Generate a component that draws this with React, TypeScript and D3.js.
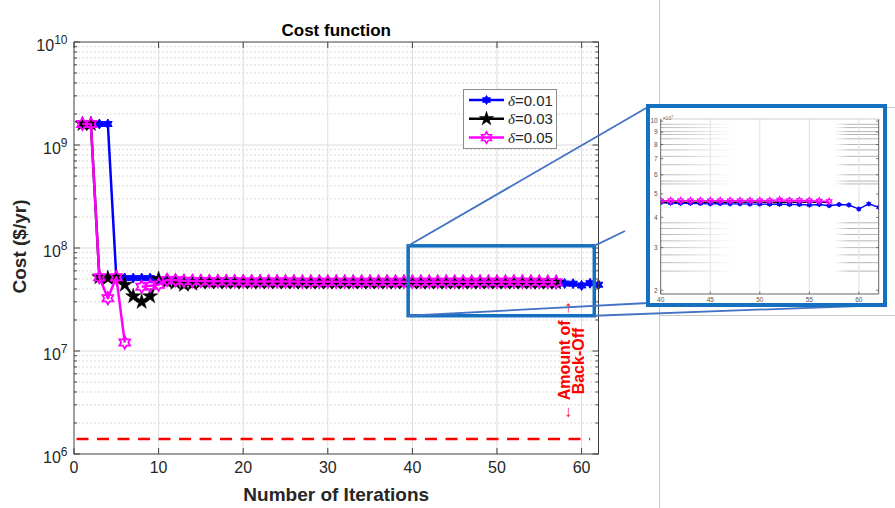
import React from "react";
import * as d3 from "d3";

// ---------- data ----------
const blueCost: (number | null)[] = [
  1.6e9, 1.6e9, 1.6e9, 1.6e9, 5.2e7, 5.1e7, 5.1e7, 5.1e7, 5.1e7, 5.0e7, 4.8e7, 4.75e7, 4.65e7,
  4.65e7, 4.65e7, 4.64e7, 4.64e7, 4.64e7, 4.63e7, 4.63e7, 4.63e7, 4.63e7, 4.62e7, 4.62e7, 4.62e7, 4.62e7,
  4.62e7, 4.61e7, 4.61e7, 4.61e7, 4.61e7, 4.61e7, 4.6e7, 4.6e7, 4.6e7, 4.6e7, 4.6e7, 4.6e7, 4.6e7,
  4.6e7, 4.58e7, 4.57e7, 4.57e7, 4.56e7, 4.55e7, 4.56e7, 4.55e7, 4.55e7, 4.54e7, 4.54e7, 4.53e7,
  4.53e7, 4.52e7, 4.52e7, 4.5e7, 4.52e7, 4.47e7, 4.52e7, 4.5e7, 4.33e7, 4.55e7, 4.4e7,
];
const blackCost: (number | null)[] = [
  1.6e9, 1.6e9, 5.2e7, 5.1e7, 5.2e7, 4.4e7, 3.4e7, 3.0e7, 3.4e7, 5.0e7, 4.7e7, 4.6e7, 4.4e7, 4.5e7,
  4.64e7, 4.64e7, 4.64e7, 4.64e7, 4.64e7, 4.64e7, 4.64e7, 4.64e7, 4.64e7, 4.64e7,
  4.63e7, 4.63e7, 4.63e7, 4.63e7, 4.63e7, 4.63e7, 4.63e7, 4.63e7, 4.63e7, 4.63e7, 4.63e7, 4.63e7, 4.63e7, 4.63e7, 4.63e7,
  4.62e7, 4.62e7, 4.62e7, 4.62e7, 4.62e7, 4.62e7, 4.62e7, 4.62e7, 4.62e7, 4.62e7, 4.62e7, 4.62e7, 4.62e7, 4.62e7,
  4.62e7, 4.62e7, 4.62e7, 4.62e7,
];
const magentaCost: (number | null)[] = [
  1.6e9, 1.6e9, 5.2e7, 3.25e7, 5.2e7, 1.21e7, null, 4.2e7, 4.3e7, 4.4e7, 4.9e7, 4.85e7, 4.8e7,
  4.78e7, 4.77e7, 4.76e7, 4.76e7, 4.75e7, 4.75e7, 4.74e7, 4.74e7, 4.73e7, 4.73e7,
  4.72e7, 4.72e7, 4.72e7, 4.71e7, 4.71e7, 4.71e7, 4.7e7, 4.7e7, 4.7e7, 4.7e7, 4.7e7, 4.7e7, 4.7e7, 4.7e7, 4.7e7, 4.7e7,
  4.69e7, 4.69e7, 4.69e7, 4.69e7, 4.69e7, 4.69e7, 4.69e7, 4.69e7, 4.69e7, 4.69e7, 4.69e7, 4.69e7,
  4.73e7, 4.7e7, 4.7e7, 4.69e7, 4.68e7, 4.66e7,
];
const deltaLabels = ["0.01", "0.03", "0.05"];
const xTickValues = [0, 10, 20, 30, 40, 50, 60];
const yDecadeExponents = [6, 7, 8, 9, 10];
const backOffCost = 1.4e6;
const backOffIterRange = [0.3, 61];
const zoomIterRange = [39.5, 61.5];
const zoomCostRange = [2.2e7, 1.05e8];
const insetXTicks = [40, 45, 50, 55, 60];
const insetYTicks = [2, 3, 4, 5, 6, 7, 8, 9, 10];
const insetFadedLevels = [2.4, 2.6, 2.8, 3.0, 3.2, 3.4, 3.6, 3.8, 5.5, 5.65, 6.0, 6.6, 7.15, 7.6, 8.0, 8.45, 8.8, 9.05, 9.4, 9.7];

// ---------- helpers ----------
const FONT = "'Liberation Sans', Arial, Helvetica, sans-serif";
const TXT = "#262626";

const hexPath = (R: number) => {
  const pts = d3.range(12).map((i) => {
    const a = ((i * 30 - 90) * Math.PI) / 180;
    const rr = i % 2 === 0 ? R : R / Math.sqrt(3);
    return [rr * Math.cos(a), rr * Math.sin(a)];
  });
  return "M" + pts.map((p) => p[0].toFixed(2) + "," + p[1].toFixed(2)).join("L") + "Z";
};
const starPath = (R: number) =>
  d3.symbol(d3.symbolStar, (R * R) / 0.8908130915292852)() as string;

type Kind = "hexFill" | "star" | "hexOutline";
const markerProps = (kind: Kind, R: number, color: string, sw: number) => {
  if (kind === "star") return { d: starPath(R), fill: color, stroke: color, strokeWidth: 0.5 };
  if (kind === "hexFill") return { d: hexPath(R), fill: color, stroke: color, strokeWidth: 1 };
  return { d: hexPath(R), fill: "none", stroke: color, strokeWidth: sw };
};

const toPts = (arr: (number | null)[]) => arr.map((v, i) => [i + 1, v] as [number, number | null]);

export default function App() {
  const x = d3.scaleLinear().domain([0, 62]).range([74, 598.5]);
  const y = d3.scaleLog().domain([1e6, 1e10]).range([454, 42]);
  const L = x(0), R = x(62), T = y(1e10), B = y(1e6);

  const xI = d3.scaleLinear().domain([40, 62]).range([660.7, 878.7]);
  const yI = d3.scaleLog().domain([1.93e7, 1.02e8]).range([294, 119]);
  const iL = xI(40), iR = xI(62), iT = yI(1.02e8), iB = yI(1.93e7);

  const series = [
    { data: toPts(blueCost), color: "#0000ff", kind: "hexFill" as Kind, R: 5, insetR: 2.4 },
    { data: toPts(blackCost), color: "#000000", kind: "star" as Kind, R: 8, insetR: 2.6 },
    { data: toPts(magentaCost), color: "#ff00ff", kind: "hexOutline" as Kind, R: 6.2, insetR: 3 },
  ];

  const line = d3
    .line<[number, number | null]>()
    .defined((d) => d[1] != null)
    .x((d) => x(d[0]))
    .y((d) => y(d[1] as number));
  const lineI = d3
    .line<[number, number | null]>()
    .defined((d) => d[1] != null)
    .x((d) => xI(d[0]))
    .y((d) => yI((d[1] as number)));

  const minorVals: number[] = [];
  yDecadeExponents.slice(0, -1).forEach((e) => {
    for (let m = 2; m <= 9; m++) minorVals.push(m * Math.pow(10, e));
  });
  const majorVals = yDecadeExponents.map((e) => Math.pow(10, e));

  const legendRows = deltaLabels.map((lab, i) => ({ lab, s: series[i], yy: 100 + i * 18.8 }));

  const zx0 = x(zoomIterRange[0]), zx1 = x(zoomIterRange[1]);
  const zy0 = y(zoomCostRange[1]), zy1 = y(zoomCostRange[0]);
  const inset = { x0: 648, y0: 106, x1: 885, y1: 305 };
  const connector = "#4472c4";

  return (
    <div style={{ position: "fixed", left: 0, top: 0 }}>
      <svg width={895} height={508} viewBox="0 0 895 508" style={{ display: "block", fontFamily: FONT }}>
        <rect x={0} y={0} width={895} height={508} fill="#ffffff" />
        <defs>
          <clipPath id="insetClip">
            <rect x={iL} y={iT} width={iR - iL} height={iB - iT} />
          </clipPath>
          <linearGradient id="fadeL" gradientUnits="userSpaceOnUse" x1={xI(40)} x2={xI(47.5)} y1={0} y2={0}>
            <stop offset="0" stopColor="#b5b5b5" stopOpacity={1} />
            <stop offset="1" stopColor="#b5b5b5" stopOpacity={0} />
          </linearGradient>
          <linearGradient id="fadeR" gradientUnits="userSpaceOnUse" x1={xI(57.5)} x2={xI(59)} y1={0} y2={0}>
            <stop offset="0" stopColor="#b5b5b5" stopOpacity={0} />
            <stop offset="1" stopColor="#b5b5b5" stopOpacity={1} />
          </linearGradient>
        </defs>

        {/* grid */}
        {minorVals.map((v) => (
          <line key={"mg" + v} x1={L} x2={R} y1={y(v)} y2={y(v)} stroke="#dadada" strokeWidth={1} strokeDasharray="2,2" />
        ))}
        {majorVals.slice(1, -1).map((v) => (
          <line key={"Mg" + v} x1={L} x2={R} y1={y(v)} y2={y(v)} stroke="#dcdcdc" strokeWidth={1} />
        ))}
        {xTickValues.slice(1).map((t) => (
          <line key={"xg" + t} x1={x(t)} x2={x(t)} y1={T} y2={B} stroke="#dcdcdc" strokeWidth={1} />
        ))}

        {/* back-off level */}
        <line
          x1={x(backOffIterRange[0])}
          x2={x(backOffIterRange[1])}
          y1={y(backOffCost)}
          y2={y(backOffCost)}
          stroke="#ff0000"
          strokeWidth={2.6}
          strokeDasharray="12,8.5"
        />

        {/* series */}
        {series.map((s, si) => (
          <g key={"s" + si}>
            <path d={line(s.data) || ""} fill="none" stroke={s.color} strokeWidth={2.5} strokeLinejoin="round" />
            {s.data
              .filter((d) => d[1] != null)
              .map((d, i) => {
                const p = markerProps(s.kind, s.R, s.color, 1.8);
                return (
                  <path
                    key={i}
                    transform={`translate(${x(d[0])},${y(d[1] as number)})`}
                    d={p.d}
                    fill={p.fill}
                    stroke={p.stroke}
                    strokeWidth={p.strokeWidth}
                  />
                );
              })}
          </g>
        ))}

        {/* axes box and ticks */}
        <rect x={L} y={T} width={R - L} height={B - T} fill="none" stroke="#404040" strokeWidth={1} />
        {majorVals.map((v) => (
          <g key={"yt" + v}>
            <line x1={L} x2={L + 6} y1={y(v)} y2={y(v)} stroke="#404040" />
            <line x1={R} x2={R - 6} y1={y(v)} y2={y(v)} stroke="#404040" />
          </g>
        ))}
        {minorVals.map((v) => (
          <g key={"ymt" + v}>
            <line x1={L} x2={L + 3} y1={y(v)} y2={y(v)} stroke="#404040" />
            <line x1={R} x2={R - 3} y1={y(v)} y2={y(v)} stroke="#404040" />
          </g>
        ))}
        {xTickValues.map((t) => (
          <g key={"xt" + t}>
            <line x1={x(t)} x2={x(t)} y1={B} y2={B - 6} stroke="#404040" />
            <line x1={x(t)} x2={x(t)} y1={T} y2={T + 6} stroke="#404040" />
          </g>
        ))}

        {/* tick labels */}
        {xTickValues.map((t) => (
          <text key={"xl" + t} x={x(t)} y={473} textAnchor="middle" fontSize={16} fill={TXT}>
            {t}
          </text>
        ))}
        {yDecadeExponents.map((e) => (
          <text key={"yl" + e} x={67.5} y={y(Math.pow(10, e)) + 9} textAnchor="end" fontSize={16} fill={TXT}>
            <tspan>10</tspan>
            <tspan fontSize={12} dy={-7.5}>
              {e}
            </tspan>
          </text>
        ))}

        {/* titles */}
        <text x={(L + R) / 2} y={36} textAnchor="middle" fontSize={17} fontWeight="bold" fill="#000">
          Cost function
        </text>
        <text x={(L + R) / 2} y={501} textAnchor="middle" fontSize={19} fontWeight="bold" fill={TXT}>
          Number of Iterations
        </text>
        <text
          transform={`translate(19,${(T + B) / 2 - 1.5}) rotate(-90)`}
          textAnchor="middle"
          dominantBaseline="central"
          fontSize={19}
          fontWeight="bold"
          fill={TXT}
        >
          Cost ($/yr)
        </text>

        {/* legend */}
        <rect x={463.5} y={89.5} width={93} height={59} fill="#ffffff" stroke="#8c8c8c" strokeWidth={1} />
        {legendRows.map((r, i) => {
          const p = markerProps(r.s.kind, r.s.kind === "star" ? 7.5 : r.s.R - 0.5, r.s.color, 1.6);
          return (
            <g key={"lg" + i}>
              <line x1={469} x2={504} y1={r.yy} y2={r.yy} stroke={r.s.color} strokeWidth={2.5} />
              <path transform={`translate(486.5,${r.yy})`} d={p.d} fill={p.fill} stroke={p.stroke} strokeWidth={p.strokeWidth} />
              <text x={508} y={r.yy + 5.5} fontSize={15} fill={TXT}>
                <tspan fontStyle="italic" fontFamily="'Liberation Serif', 'DejaVu Serif', serif">δ</tspan>
                <tspan>={r.lab}</tspan>
              </text>
            </g>
          );
        })}

        {/* back-off annotation */}
        <text
          transform="translate(564.5,360) rotate(-90)"
          textAnchor="middle"
          dominantBaseline="central"
          fontSize={16}
          fontWeight="bold"
          fill="#ff0000"
        >
          <tspan fontWeight="normal">←</tspan> Amount of <tspan fontWeight="normal">→</tspan>
        </text>
        <text
          transform="translate(578.5,361) rotate(-90)"
          textAnchor="middle"
          dominantBaseline="central"
          fontSize={16}
          fontWeight="bold"
          fill="#ff0000"
        >
          Back-Off
        </text>

        {/* zoom rectangle */}
        <rect x={zx0} y={zy0} width={zx1 - zx0} height={zy1 - zy0} fill="none" stroke="#1570c0" strokeWidth={3.5} />

        {/* background screenshot frame lines */}
        <line x1={659.5} x2={659.5} y1={0} y2={508} stroke="#c8c8c8" strokeWidth={1} />
        <line x1={659} x2={895} y1={107.5} y2={107.5} stroke="#c8c8c8" strokeWidth={1} />
        <line x1={659} x2={895} y1={315.5} y2={315.5} stroke="#c8c8c8" strokeWidth={1} />

        {/* connectors */}
        <line x1={zx0} y1={zy0} x2={inset.x0} y2={inset.y0 + 1} stroke={connector} strokeWidth={1.8} />
        <line x1={zx1} y1={zy0} x2={625} y2={231} stroke={connector} strokeWidth={1.8} />
        <line x1={zx0} y1={zy1} x2={inset.x0} y2={inset.y1 - 2} stroke={connector} strokeWidth={1.8} />
        <line x1={zx1} y1={zy1} x2={inset.x1} y2={inset.y1} stroke={connector} strokeWidth={1.8} />

        {/* inset */}
        <rect
          x={inset.x0}
          y={inset.y0}
          width={inset.x1 - inset.x0}
          height={inset.y1 - inset.y0}
          fill="#ffffff"
          stroke="#1570c0"
          strokeWidth={4}
        />
        {insetFadedLevels.map((v) => (
          <g key={"fl" + v}>
            <line x1={iL} x2={xI(47.5)} y1={yI(v * 1e7)} y2={yI(v * 1e7)} stroke="url(#fadeL)" strokeWidth={1} />
            <line x1={xI(57.5)} x2={iR} y1={yI(v * 1e7)} y2={yI(v * 1e7)} stroke="url(#fadeR)" strokeWidth={1} />
          </g>
        ))}
        {insetXTicks.slice(1).map((t) => (
          <line key={"ig" + t} x1={xI(t)} x2={xI(t)} y1={iT} y2={iB} stroke="#e0e0e0" strokeWidth={1} />
        ))}
        <g clipPath="url(#insetClip)">
          {series.map((s, si) => (
            <g key={"is" + si}>
              <path d={lineI(s.data.filter((d) => d[0] >= 39)) || ""} fill="none" stroke={s.color} strokeWidth={1.4} />
              {s.data
                .filter((d) => d[1] != null && d[0] >= 40)
                .map((d, i) => {
                  const p =
                    s.kind === "star"
                      ? { d: "", fill: "none", stroke: "none", strokeWidth: 0 }
                      : markerProps(s.kind === "hexOutline" ? "hexOutline" : "hexFill", s.insetR, s.color, 1.3);
                  return (
                    <path
                      key={i}
                      transform={`translate(${xI(d[0])},${yI(d[1] as number)})`}
                      d={p.d}
                      fill={p.fill}
                      stroke={p.stroke}
                      strokeWidth={p.strokeWidth}
                    />
                  );
                })}
            </g>
          ))}
        </g>
        <line x1={iL} x2={iL} y1={iT} y2={iB} stroke="#555" strokeWidth={0.9} />
        <line x1={iR} x2={iR} y1={iT} y2={iB} stroke="#555" strokeWidth={0.9} />
        <line x1={iL} x2={iR} y1={iB} y2={iB} stroke="#555" strokeWidth={0.9} />
        <line x1={iL} x2={iR} y1={iT} y2={iT} stroke="#bbb" strokeWidth={0.7} />
        {insetYTicks.map((t) => (
          <g key={"iyt" + t}>
            <line x1={iL} x2={iL + 2.5} y1={yI(t * 1e7)} y2={yI(t * 1e7)} stroke="#555" strokeWidth={0.8} />
            <line x1={iR} x2={iR - 2.5} y1={yI(t * 1e7)} y2={yI(t * 1e7)} stroke="#555" strokeWidth={0.8} />
            <text x={iL - 3} y={yI(t * 1e7) + 2.3} textAnchor="end" fontSize={6.5} fill="#555">
              {t}
            </text>
          </g>
        ))}
        {insetXTicks.map((t) => (
          <g key={"ixt" + t}>
            <line x1={xI(t)} x2={xI(t)} y1={iB} y2={iB - 2.5} stroke="#555" strokeWidth={0.8} />
            <text x={xI(t)} y={301.5} textAnchor="middle" fontSize={6.5} fill="#555">
              {t}
            </text>
          </g>
        ))}
        <text x={iL + 2} y={120} fontSize={5} fill="#666">
          ×10<tspan fontSize={3.8} dy={-2}>7</tspan>
        </text>
      </svg>
    </div>
  );
}
